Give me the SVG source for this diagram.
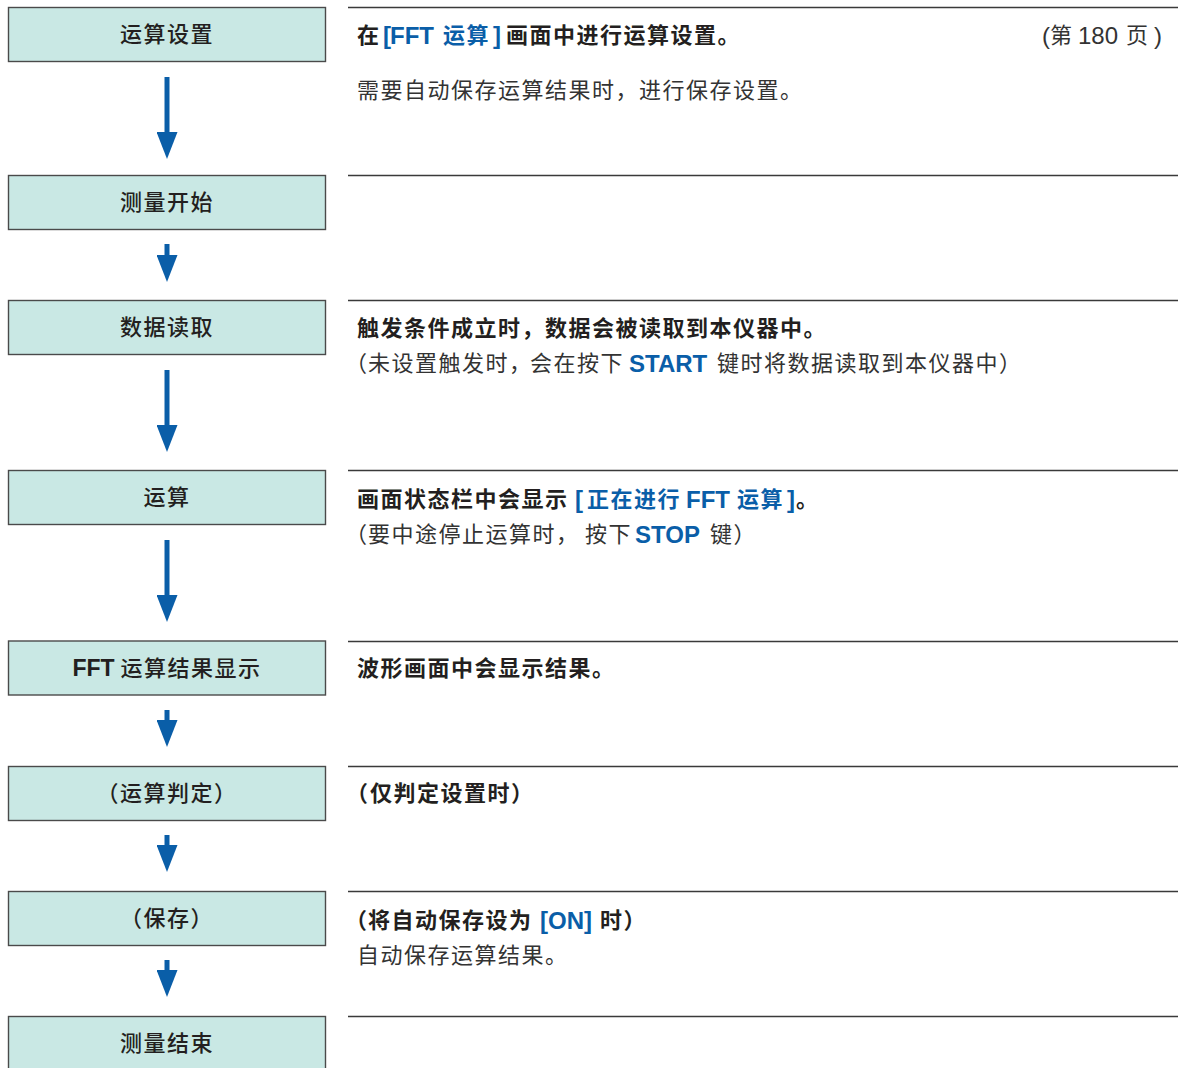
<svg xmlns="http://www.w3.org/2000/svg" width="1178" height="1068" viewBox="0 0 1178 1068">
<style>
text{font-family:"Liberation Sans","Noto Sans CJK SC",sans-serif;font-size:22px;letter-spacing:1.5px;fill:#231f20;dominant-baseline:central}
.lbl{font-weight:500;text-anchor:middle}
.b{font-weight:700}
.n{font-weight:400;fill:#333}
.lat{font-size:24px;letter-spacing:0}
.blue{fill:#0a5ea8}
.box{fill:#c9e8e4;stroke:#4a4a4a;stroke-width:1.4}
.sep{stroke:#3a3a3a;stroke-width:1.3}
.arr{stroke:#0a5ea8;stroke-width:5;fill:none}
</style>
<defs>
<marker id="ah" markerUnits="userSpaceOnUse" markerWidth="27" markerHeight="21" refX="0" refY="10.5" orient="auto" viewBox="0 0 27 21">
<path d="M0,0 L27,10.5 L0,21 Z" fill="#0a5ea8"/>
</marker>
</defs>
<rect width="1178" height="1068" fill="#fff"/>
<g id="separators">
<line class="sep" x1="348" y1="7.5" x2="1178" y2="7.5"/>
<line class="sep" x1="348" y1="175.5" x2="1178" y2="175.5"/>
<line class="sep" x1="348" y1="300.5" x2="1178" y2="300.5"/>
<line class="sep" x1="348" y1="470.5" x2="1178" y2="470.5"/>
<line class="sep" x1="348" y1="641.5" x2="1178" y2="641.5"/>
<line class="sep" x1="348" y1="766.5" x2="1178" y2="766.5"/>
<line class="sep" x1="348" y1="891.5" x2="1178" y2="891.5"/>
<line class="sep" x1="348" y1="1016.5" x2="1178" y2="1016.5"/>
</g>
<g id="connectors">
<line class="arr" x1="167" y1="77" x2="167" y2="132" marker-end="url(#ah)"/>
<line class="arr" x1="167" y1="244" x2="167" y2="255" marker-end="url(#ah)"/>
<line class="arr" x1="167" y1="370" x2="167" y2="425" marker-end="url(#ah)"/>
<line class="arr" x1="167" y1="540" x2="167" y2="595" marker-end="url(#ah)"/>
<line class="arr" x1="167" y1="710" x2="167" y2="720" marker-end="url(#ah)"/>
<line class="arr" x1="167" y1="835" x2="167" y2="845" marker-end="url(#ah)"/>
<line class="arr" x1="167" y1="960" x2="167" y2="970" marker-end="url(#ah)"/>
</g>
<g id="n1"><rect class="box" x="8.5" y="7.5" width="317" height="54"/><text class="lbl" x="167" y="34.5">运算设置</text></g>
<g id="n2"><rect class="box" x="8.5" y="175.5" width="317" height="54"/><text class="lbl" x="167" y="202.5">测量开始</text></g>
<g id="n3"><rect class="box" x="8.5" y="300.5" width="317" height="54"/><text class="lbl" x="167" y="327.5">数据读取</text></g>
<g id="n4"><rect class="box" x="8.5" y="470.5" width="317" height="54"/><text class="lbl" x="167" y="497.5">运算</text></g>
<g id="n5"><rect class="box" x="8.5" y="641" width="317" height="54"/><text class="lbl" x="167" y="668"><tspan class="b lat" style="font-size:23px">FFT</tspan><tspan dx="6">运算结果显示</tspan></text></g>
<g id="n6"><rect class="box" x="8.5" y="766.5" width="317" height="54"/><text class="lbl" x="167" y="793.5">（运算判定）</text></g>
<g id="n7"><rect class="box" x="8.5" y="891.5" width="317" height="54"/><text class="lbl" x="167" y="918.5">（保存）</text></g>
<g id="n8"><rect class="box" x="8.5" y="1016.5" width="317" height="54"/><text class="lbl" x="167" y="1043.5">测量结束</text></g>
<g id="desc1">
<text class="b" y="35"><tspan x="357">在</tspan><tspan class="blue lat" x="383">[</tspan><tspan class="blue lat" x="390">FFT</tspan><tspan class="blue" x="443">运算</tspan><tspan class="blue lat" x="493">]</tspan><tspan x="506">画面中进行运算设置。</tspan></text>
<text class="n" y="35"><tspan class="lat" x="1042">(</tspan><tspan x="1050">第</tspan><tspan class="lat" x="1078">180</tspan><tspan x="1126">页</tspan><tspan class="lat" x="1154">)</tspan></text>
<text class="n" x="357" y="90">需要自动保存运算结果时，进行保存设置。</text>
</g>
<g id="desc3">
<text class="b" x="357" y="328">触发条件成立时，数据会被读取到本仪器中。</text>
<text class="n" y="363"><tspan x="345">（</tspan><tspan x="368">未设置触发时</tspan><tspan style="letter-spacing:-4px">，</tspan><tspan x="530">会在按下</tspan><tspan class="b lat blue" x="629">START</tspan><tspan x="717">键时将数据读取到本仪器中）</tspan></text>
</g>
<g id="desc4">
<text class="b" y="499"><tspan x="357">画面状态栏中会显示</tspan><tspan class="blue lat" x="575">[</tspan><tspan class="blue" x="587">正在进行</tspan><tspan class="blue lat" x="686">FFT</tspan><tspan class="blue" x="737">运算</tspan><tspan class="blue lat" x="787">]</tspan><tspan x="796">。</tspan></text>
<text class="n" y="534"><tspan x="345">（</tspan><tspan x="368">要中途停止运算时，</tspan><tspan x="585">按下</tspan><tspan class="b lat blue" x="635">STOP</tspan><tspan x="710">键）</tspan></text>
</g>
<g id="desc5">
<text class="b" x="357" y="668">波形画面中会显示结果。</text>
</g>
<g id="desc6">
<text class="b" y="793"><tspan x="346">（</tspan><tspan x="370">仅判定设置时）</tspan></text>
</g>
<g id="desc7">
<text class="b" y="920"><tspan x="345">（</tspan><tspan x="368">将自动保存设为</tspan><tspan class="blue lat" x="540">[ON]</tspan><tspan x="600">时）</tspan></text>
<text class="n" x="357" y="955">自动保存运算结果。</text>
</g>
</svg>
